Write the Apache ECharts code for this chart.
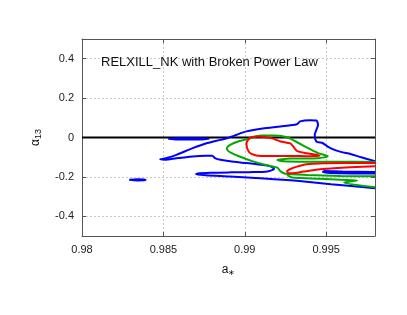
<!DOCTYPE html>
<html><head><meta charset="utf-8">
<script src="https://cdn.jsdelivr.net/npm/echarts@6/dist/echarts.min.js"></script>
<style>html,body{margin:0;padding:0;background:#fff}#c{width:407px;height:315px}</style>
</head><body><div id="c"></div>
<script>
// Tick labels
const xTickLabels = ['0.98', '0.985', '0.99', '0.995'];
const yTickLabels = ['-0.4', '-0.2', '0', '0.2', '0.4'];

// Contours [a*, alpha13]
const blueOuter = [
 [0.998,-0.120],[0.9971,-0.099],[0.9965,-0.084],[0.9959,-0.073],[0.9954,-0.059],[0.9951,-0.046],
 [0.9948,-0.029],[0.9944,-0.020],[0.9943,0.014],[0.9944,0.039],[0.9945,0.064],[0.9944,0.086],
 [0.9940,0.088],[0.9934,0.082],[0.9932,0.067],[0.9922,0.056],[0.9911,0.046],[0.9901,0.031],
 [0.9894,0.011],[0.9889,-0.004],[0.9885,-0.012],[0.9877,-0.028],[0.9868,-0.054],[0.9858,-0.088],
 [0.9851,-0.106],[0.9848,-0.111],
 [0.9851,-0.113],[0.9858,-0.105],[0.9868,-0.096],[0.9876,-0.093],[0.9880,-0.093],[0.9882,-0.106],
 [0.9885,-0.113],[0.9891,-0.121],[0.9901,-0.130],[0.9910,-0.139],[0.9916,-0.147],[0.9918,-0.160],
 [0.9914,-0.172],[0.9903,-0.176],[0.9891,-0.177],[0.9879,-0.179],[0.9871,-0.183],[0.9870,-0.187],
 [0.9876,-0.192],[0.9891,-0.198],[0.9912,-0.208],[0.9932,-0.220],[0.9953,-0.237],[0.998,-0.258]
];
const blueInner = [[0.998,-0.175],[0.9960,-0.173],[0.9949,-0.170],[0.9948,-0.175],[0.9953,-0.180],[0.998,-0.183]];
const blueBlobTop = [[0.9853,-0.007],[0.9858,-0.004],[0.9870,-0.004],[0.9878,-0.006],[0.9870,-0.010],[0.9858,-0.010],[0.9853,-0.007]];
const blueBlobLeft = [[0.9829,-0.215],[0.9834,-0.212],[0.9839,-0.213],[0.9839,-0.217],[0.9834,-0.218],[0.9829,-0.215]];

const greenMain = [
 [0.998,-0.124],[0.9959,-0.123],[0.9934,-0.123],[0.9924,-0.121],[0.9920,-0.114],[0.9928,-0.107],
 [0.9945,-0.105],[0.9951,-0.095],[0.9945,-0.079],[0.9939,-0.054],[0.9931,-0.019],[0.9926,0.001],
 [0.9919,0.010],[0.9910,0.010],[0.9902,-0.007],[0.9896,-0.020],[0.9891,-0.037],[0.9889,-0.055],
 [0.9890,-0.070],[0.9896,-0.094],[0.9905,-0.121],[0.9913,-0.140],[0.9920,-0.153],[0.9922,-0.172],
 [0.9925,-0.184],[0.9938,-0.190],[0.9959,-0.195],[0.998,-0.197]
];
const greenLower = [[0.9926,-0.190],[0.9929,-0.203],[0.9946,-0.209],[0.9959,-0.215],[0.9969,-0.218],[0.9961,-0.228],[0.998,-0.252]];

const redLoop = [
 [0.9902,-0.012],[0.9904,0.002],[0.9908,0.005],[0.9916,-0.003],[0.9922,-0.020],[0.9928,-0.030],
 [0.9930,-0.048],[0.9932,-0.068],[0.9938,-0.080],[0.9944,-0.088],[0.9946,-0.094],[0.9938,-0.095],
 [0.9930,-0.094],[0.9920,-0.094],[0.9910,-0.094],[0.9904,-0.083],[0.9902,-0.065],[0.9901,-0.030],[0.9902,-0.012]
];
const redTongue = [
 [0.998,-0.130],[0.9960,-0.130],[0.9950,-0.131],[0.9938,-0.136],[0.9932,-0.148],[0.9928,-0.160],
 [0.9926,-0.172],[0.9927,-0.181],[0.9931,-0.180],[0.9936,-0.173],[0.9948,-0.160],[0.9965,-0.151],[0.998,-0.146]
];
const zeroLine = [[0.98,0],[0.998,0]];

const BLUE = '#0000ff', GREEN = '#00aa00', RED = '#ff0000';
const FONT = 'Liberation Sans, Arial, sans-serif';

function fmt(labels) {
  return function (v) {
    const s = String(+v.toFixed(4));
    return labels.indexOf(s) >= 0 ? s : '';
  };
}
function line(data, color, z) {
  return { type: 'line', data: data, showSymbol: false, symbol: 'none', smooth: 0.25,
    lineStyle: { color: color, width: 2 }, z: z, silent: true, animation: false };
}

const chart = echarts.init(document.getElementById('c'), null, { renderer: 'canvas' });
const axisCommon = {
  axisLine: { show: true, onZero: false, lineStyle: { color: '#555', width: 1 } },
  axisTick: { show: true, inside: true, length: 4, lineStyle: { color: '#555' } },
};
chart.setOption({
  animation: false,
  title: { text: 'RELXILL_NK with Broken Power Law', left: 96, top: 51,
    textStyle: { fontSize: 13, fontWeight: 'normal', color: '#111', fontFamily: FONT } },
  grid: { left: 82, right: 32, top: 39, bottom: 79 },
  xAxis: [
    Object.assign({ type: 'value', min: 0.98, max: 0.998, interval: 0.005,
      name: '{a|a}{s|∗}', nameLocation: 'middle', nameGap: 27,
      nameTextStyle: { rich: { a: { fontSize: 12, color: '#111', fontFamily: FONT },
        s: { fontSize: 8, color: '#111', fontFamily: FONT, padding: [6, 0, 0, 0] } } },
      axisLabel: { formatter: fmt(xTickLabels), fontSize: 11, color: '#222', fontFamily: FONT, margin: 8, showMaxLabel: false },
      splitLine: { show: true, lineStyle: { color: '#c8c8c8', type: [2, 2], width: 1 } } }, axisCommon),
    Object.assign({ type: 'value', position: 'top', min: 0.98, max: 0.998, interval: 0.005,
      axisLabel: { show: false }, splitLine: { show: false } }, axisCommon)
  ],
  yAxis: [
    Object.assign({ type: 'value', min: -0.5, max: 0.5, splitNumber: 5,
      name: '{a|α}{s|13}', nameLocation: 'middle', nameGap: 39, nameRotate: 90,
      nameTextStyle: { rich: { a: { fontSize: 12, color: '#111', fontFamily: FONT },
        s: { fontSize: 9, color: '#111', fontFamily: FONT, padding: [6, 0, 0, 0] } } },
      axisLabel: { formatter: fmt(yTickLabels), fontSize: 11, color: '#222', fontFamily: FONT, margin: 8,
        showMinLabel: false, showMaxLabel: false },
      splitLine: { show: true, lineStyle: { color: '#c8c8c8', type: [2, 2], width: 1 } } }, axisCommon),
    Object.assign({ type: 'value', position: 'right', min: -0.5, max: 0.5, splitNumber: 5,
      axisLabel: { show: false }, splitLine: { show: false } }, axisCommon)
  ],
  series: [
    line(zeroLine, '#000', 1),
    line(blueOuter, BLUE, 2), line(blueInner, BLUE, 2), line(blueBlobTop, BLUE, 2), line(blueBlobLeft, BLUE, 2),
    line(greenMain, GREEN, 3), line(greenLower, GREEN, 3),
    line(redLoop, RED, 4), line(redTongue, RED, 4)
  ]
});
</script></body></html>
